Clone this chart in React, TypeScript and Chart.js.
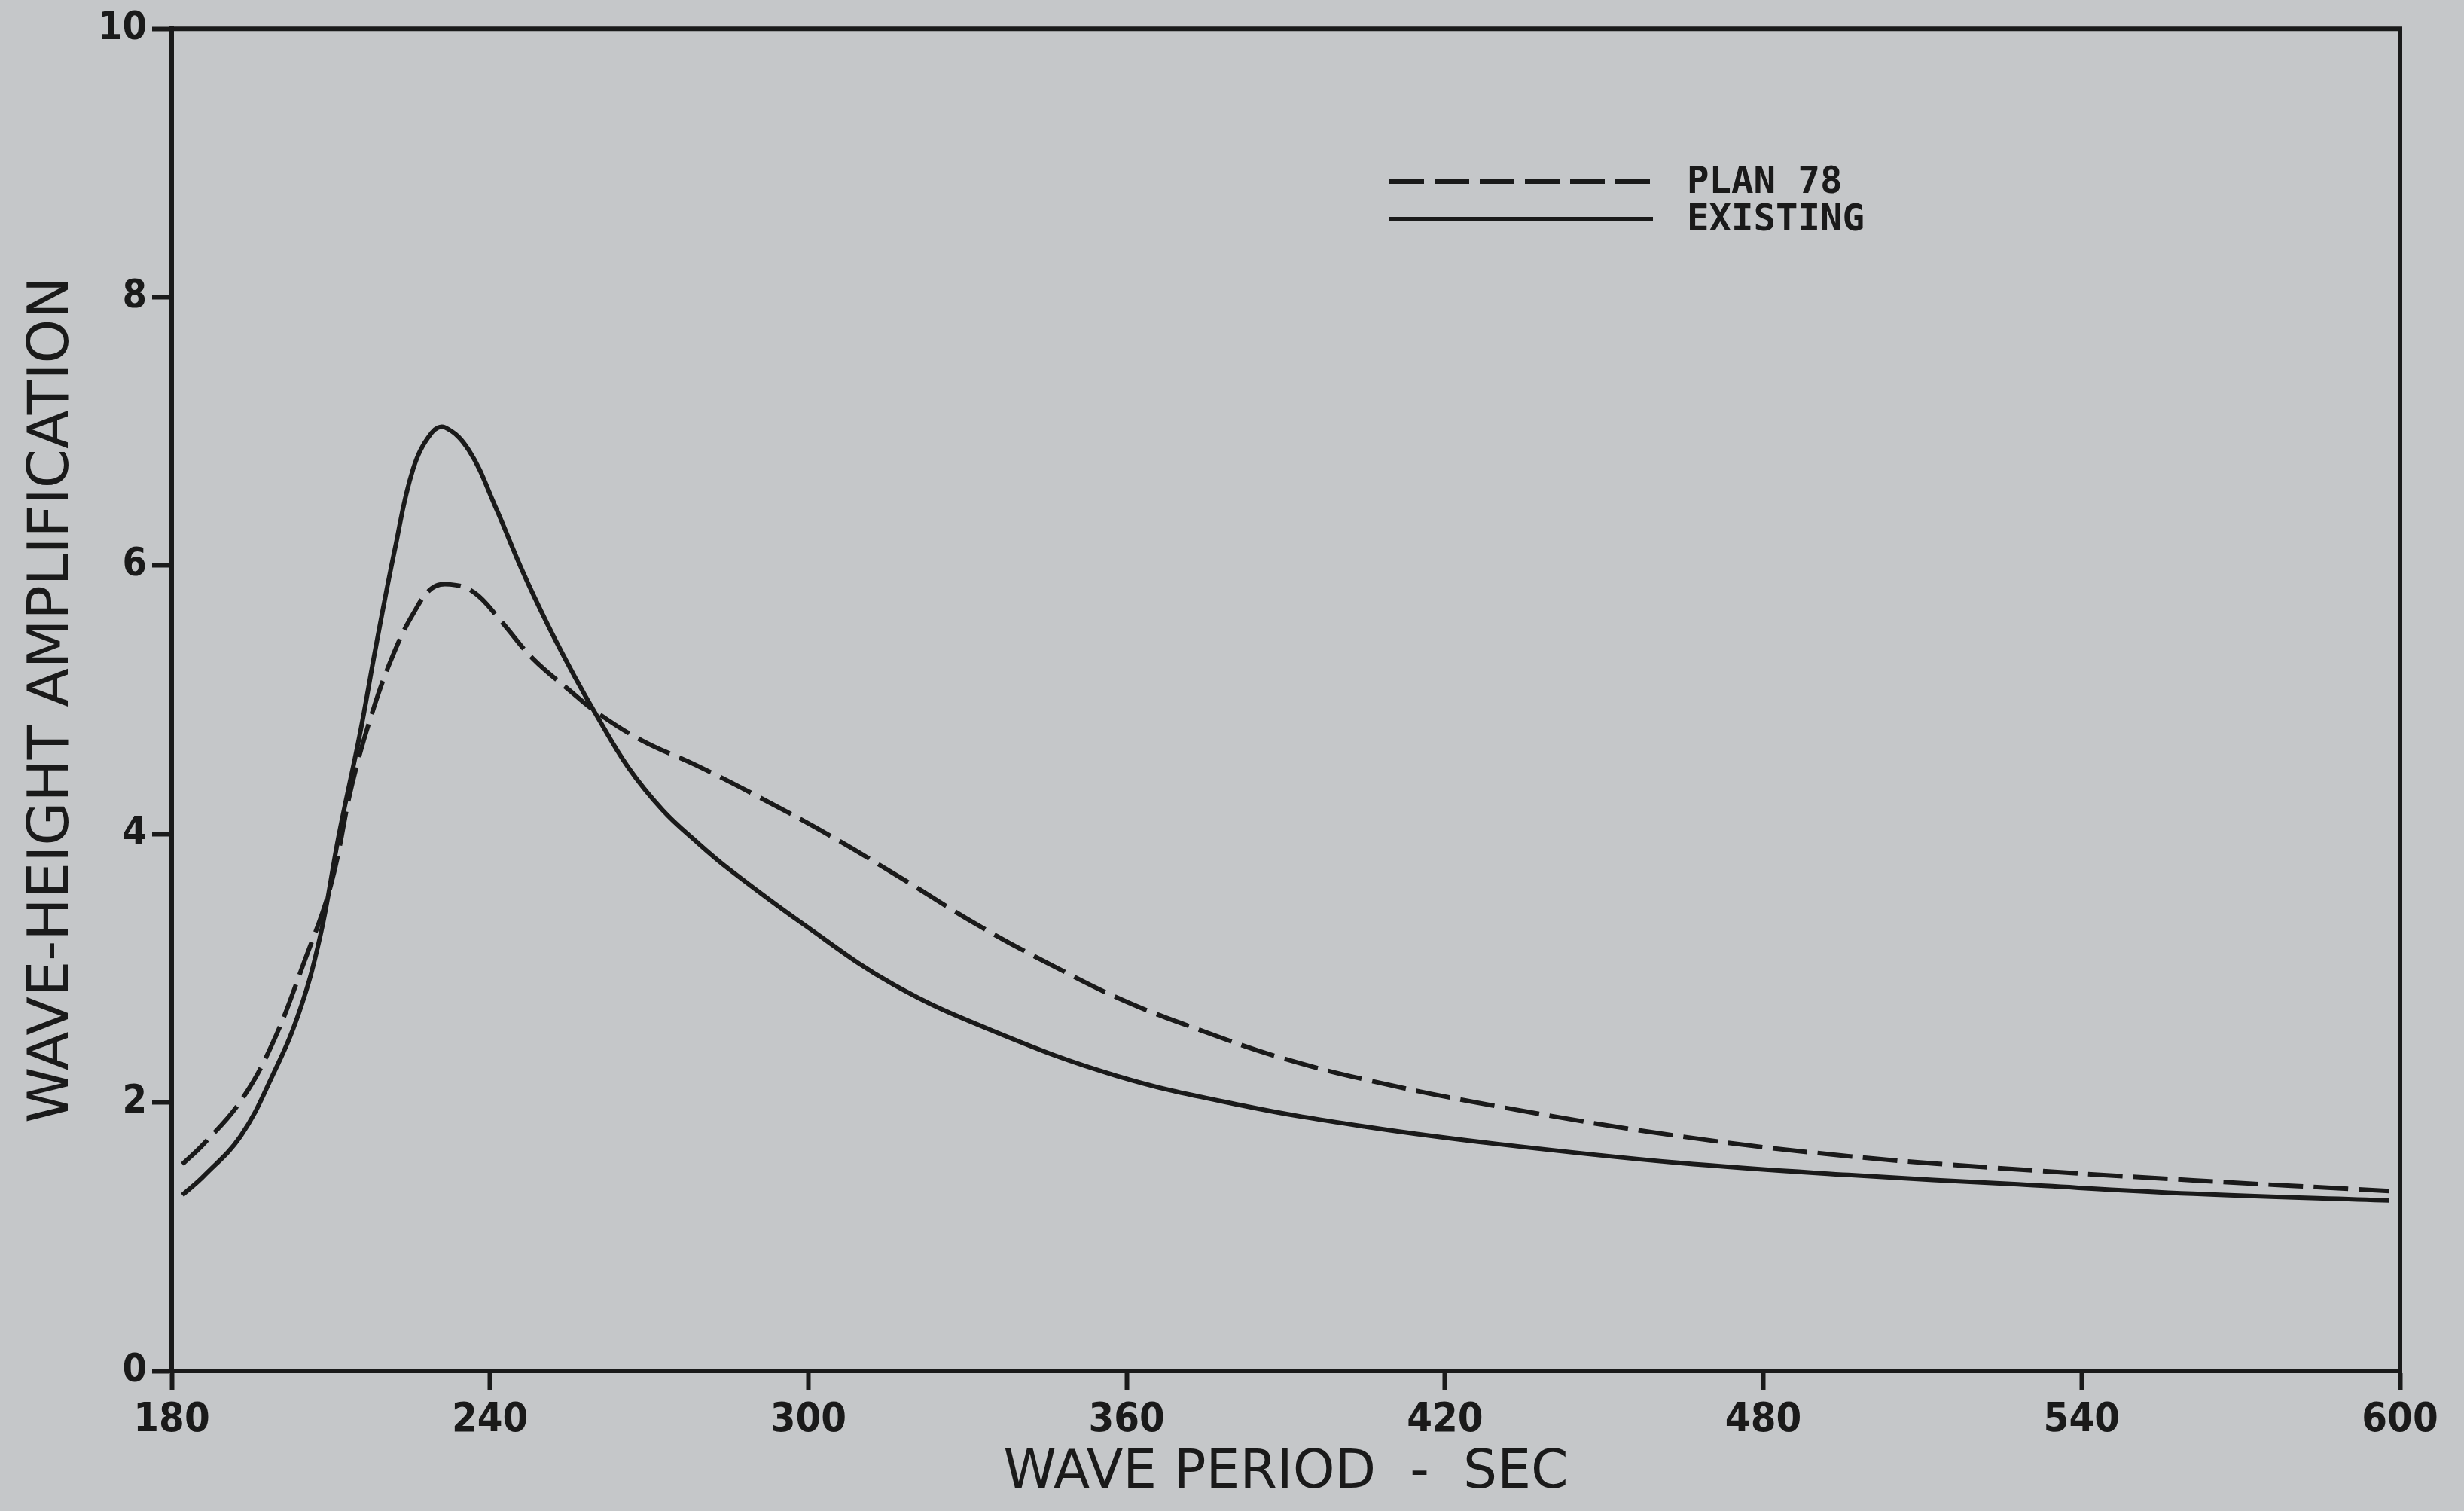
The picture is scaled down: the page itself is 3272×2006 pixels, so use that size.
import React, { useEffect, useRef } from "react";
import { Chart, registerables } from "chart.js";

Chart.register(...registerables);

// ---- data ----
const periodPlan78 = [182, 186, 193, 199, 205, 210, 214, 218, 222, 225.5, 229, 232.5, 237, 242, 248, 255, 260, 268.5, 279, 290, 304, 318, 332, 346, 360, 374.5, 388.5, 405, 430, 464, 496, 528.5, 561, 598];
const ampPlan78 = [1.54, 1.69, 2.01, 2.44, 3.05, 3.62, 4.37, 4.93, 5.36, 5.64, 5.83, 5.86, 5.8, 5.59, 5.31, 5.07, 4.91, 4.7, 4.51, 4.29, 3.99, 3.66, 3.32, 3.02, 2.75, 2.53, 2.34, 2.17, 1.97, 1.75, 1.6, 1.5, 1.42, 1.34];

const periodExisting = [182, 186, 193, 199, 204, 208, 211.5, 215.5, 218.5, 222, 225.5, 229, 231.5, 236, 241, 246, 251, 256, 260, 266, 272.5, 279, 285, 299, 316, 335, 358, 381.5, 405, 430, 464, 496, 528, 561, 598];
const ampExisting = [1.31, 1.45, 1.75, 2.2, 2.67, 3.24, 3.99, 4.75, 5.4, 6.11, 6.72, 6.99, 7.03, 6.86, 6.44, 5.97, 5.55, 5.17, 4.89, 4.5, 4.18, 3.94, 3.74, 3.33, 2.88, 2.53, 2.2, 1.98, 1.82, 1.69, 1.55, 1.46, 1.39, 1.32, 1.27];

const seriesLabels = ["PLAN 78", "EXISTING"];
const xTickValues = [180, 240, 300, 360, 420, 480, 540, 600];
const yTickValues = [0, 2, 4, 6, 8, 10];
const xTitle = "WAVE PERIOD  -  SEC";
const yTitle = "WAVE-HEIGHT AMPLIFICATION";

// ---- styles ----
const INK = "#1a1a1a";
const BG = "#c5c7c9";
const LINE_W = 6;

const toPoints = (xs: number[], ys: number[]) => xs.map((x, i) => ({ x, y: ys[i] }));

const framePlugin = {
  id: "frame",
  afterDatasetsDraw(chart: any) {
    const { ctx, chartArea } = chart;
    const { left, top, right, bottom } = chartArea;
    ctx.save();
    ctx.strokeStyle = INK;
    ctx.lineWidth = LINE_W;
    ctx.lineCap = "square";
    ctx.beginPath();
    ctx.moveTo(left, top);
    ctx.lineTo(right, top);
    ctx.lineTo(right, bottom);
    ctx.stroke();
    ctx.restore();
  },
};

const legendPlugin = {
  id: "plotLegend",
  afterDraw(chart: any) {
    const { ctx } = chart;
    const x0 = 1845;
    const x1 = 2195;
    const tx = 2240;
    const rows = [241, 291];
    ctx.save();
    chart.data.datasets.forEach((ds: any, i: number) => {
      const y = rows[i];
      ctx.strokeStyle = ds.borderColor;
      ctx.lineWidth = ds.borderWidth;
      ctx.setLineDash(ds.borderDash || []);
      ctx.beginPath();
      ctx.moveTo(x0, y);
      ctx.lineTo(x1, y);
      ctx.stroke();
      ctx.setLineDash([]);
      ctx.fillStyle = INK;
      ctx.font = "bold 49px 'DejaVu Sans Mono'";
      ctx.textBaseline = "middle";
      ctx.textAlign = "left";
      ctx.fillText(ds.label, tx, y + 2);
    });
    ctx.restore();
  },
};

export default function App() {
  const canvasRef = useRef<HTMLCanvasElement | null>(null);

  useEffect(() => {
    const canvas = canvasRef.current;
    if (!canvas) return;
    const chart = new Chart(canvas, {
      type: "line",
      data: {
        datasets: [
          {
            label: seriesLabels[0],
            data: toPoints(periodPlan78, ampPlan78),
            borderColor: INK,
            borderWidth: LINE_W,
            borderDash: [46, 14],
            pointRadius: 0,
            fill: false,
            tension: 0.4,
          },
          {
            label: seriesLabels[1],
            data: toPoints(periodExisting, ampExisting),
            borderColor: INK,
            borderWidth: LINE_W,
            pointRadius: 0,
            fill: false,
            tension: 0.4,
          },
        ],
      },
      options: {
        animation: false,
        responsive: true,
        maintainAspectRatio: false,
        layout: { padding: { top: 33, right: 85, left: 0, bottom: 0 } },
        plugins: {
          legend: { display: false },
          tooltip: { enabled: false },
        },
        scales: {
          x: {
            type: "linear",
            min: 180,
            max: 600,
            afterBuildTicks: (s: any) => {
              s.ticks = xTickValues.map((v) => ({ value: v }));
            },
            afterFit: (s: any) => {
              s.height = 186;
            },
            ticks: {
              color: INK,
              font: { family: "'DejaVu Sans Condensed'", weight: "bold", size: 54 },
              padding: 8,
              maxRotation: 0,
              autoSkip: false,
            },
            grid: {
              drawOnChartArea: false,
              drawTicks: true,
              tickLength: 26,
              tickWidth: LINE_W,
              tickColor: INK,
              color: INK,
            },
            border: { display: true, color: INK, width: LINE_W },
            title: {
              display: true,
              text: xTitle,
              color: INK,
              font: { family: "'DejaVu Sans'", size: 71, weight: "normal" },
              padding: { top: 0, bottom: 7 },
            },
          },
          y: {
            type: "linear",
            min: 0,
            max: 10,
            afterBuildTicks: (s: any) => {
              s.ticks = yTickValues.map((v) => ({ value: v }));
            },
            afterFit: (s: any) => {
              s.width = 228;
            },
            ticks: {
              color: INK,
              font: { family: "'DejaVu Sans Condensed'", weight: "bold", size: 52 },
              padding: 7,
            },
            grid: {
              drawOnChartArea: false,
              drawTicks: true,
              tickLength: 26,
              tickWidth: LINE_W,
              tickColor: INK,
              color: INK,
            },
            border: { display: true, color: INK, width: LINE_W },
            title: {
              display: true,
              text: yTitle,
              color: INK,
              font: { family: "'DejaVu Sans'", size: 75, weight: "normal" },
              padding: { top: 26, bottom: 0 },
            },
          },
        },
      },
      plugins: [framePlugin, legendPlugin],
    } as any);
    return () => chart.destroy();
  }, []);

  return (
    <div
      style={{
        position: "fixed",
        left: 0,
        top: 0,
        width: 3272,
        height: 2006,
        background: BG,
      }}
    >
      <canvas ref={canvasRef} />
    </div>
  );
}
